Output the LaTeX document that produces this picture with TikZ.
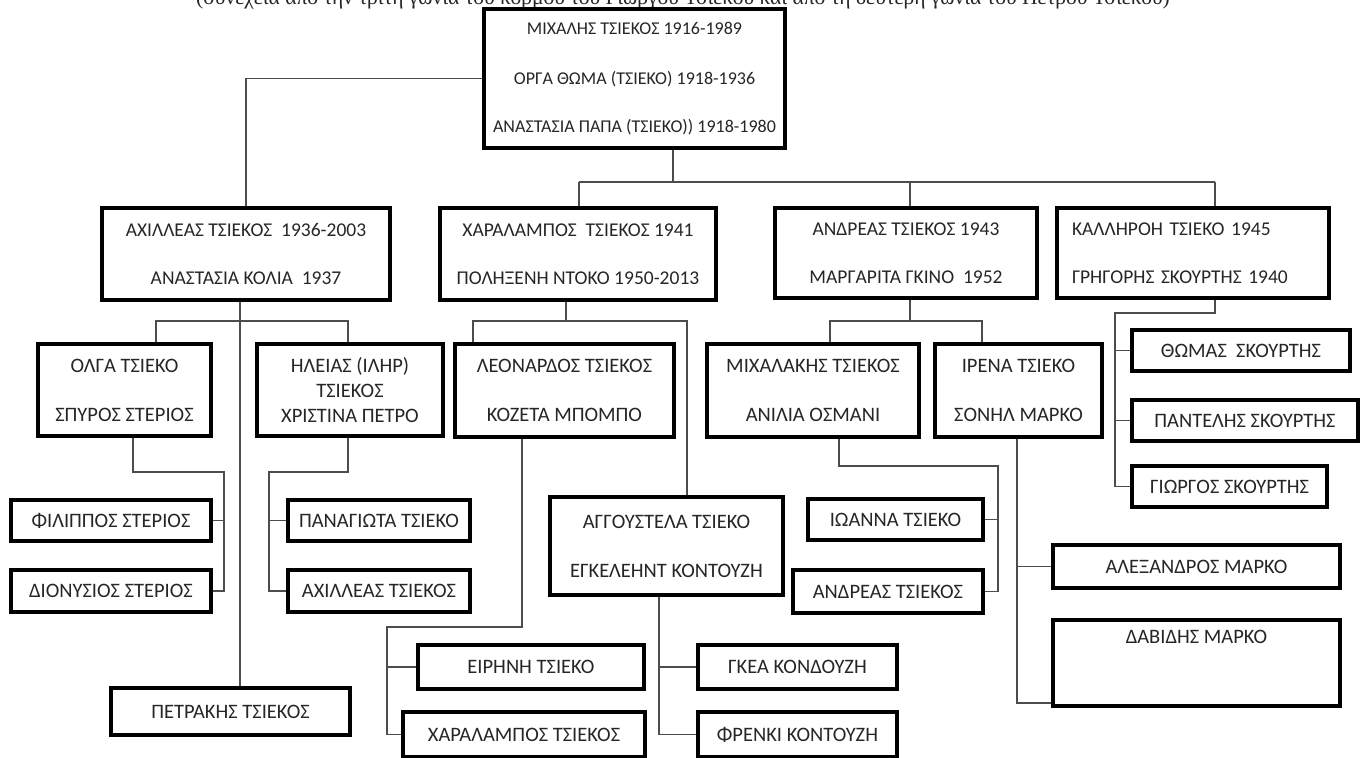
\documentclass[tikz,border=0pt]{standalone}
\usepackage{fontspec}
\setmainfont{Carlito}
\newfontfamily\titlefont{Liberation Serif}
\begin{document}
\begin{tikzpicture}[x=1pt,y=-1pt,
  box/.style={draw=black, line width=3.6pt, fill=white, inner sep=0pt, align=center,
    font=\fontsize{20.5}{24.6}\selectfont, text=black!85},
  rootbox/.style={box, font=\fontsize{18}{21.6}\selectfont},
  bigbox/.style={box, font=\fontsize{19.5}{23.4}\selectfont},
  link/.style={draw=black!70, line width=1.3pt},
  titletext/.style={font=\titlefont\fontsize{21.5}{25}\selectfont, anchor=base, text=black!85}]
\useasboundingbox (0,0) rectangle (1361,758);
\clip (0,0) rectangle (1361,758);
\fill[white] (0,0) rectangle (1361,758);

% a family box from its corner coordinates
\newcommand{\fambox}[7][]{%
  \node[box, #1, minimum width={#5-#3}, minimum height={#6-#4}] (#2)
    at ({(#3+#5)/2},{(#4+#6)/2}) {#7};}

\node[titletext] (title) at (683,4) {(συνέχεια από την τρίτη γωνία του κορμού του Γιώργου Τσιέκου και από τη δεύτερη γωνία του Πέτρου Τσιέκου)};

% ---- junction points of the lines ----
\coordinate (sp) at (673,182);
\coordinate (spL) at (579,182);
\coordinate (spA) at (910,182);
\coordinate (spK) at (1215,182);
\coordinate (a1) at (240,321);
\coordinate (a2) at (156,321);
\coordinate (a3) at (348,321);
\coordinate (o1) at (133,472);
\coordinate (o2) at (224,472);
\coordinate (i1) at (348,472);
\coordinate (i2) at (269,472);
\coordinate (c0) at (566,321);
\coordinate (c1) at (473,321);
\coordinate (c2) at (687,321);
\coordinate (l1) at (522,627);
\coordinate (l2) at (387,627);
\coordinate (g1) at (659,600);
\coordinate (n0) at (910,321);
\coordinate (n1) at (830,321);
\coordinate (n2) at (982,321);
\coordinate (m1) at (839,466);
\coordinate (m2) at (998,466);
\coordinate (r1) at (1017,440);
\coordinate (rf) at (1017,703);
\coordinate (k1) at (1215,313);
\coordinate (k2) at (1115,313);

% ---- boxes ----
\fambox[rootbox]{top}{484}{9}{785}{148}{ΜΙΧΑΛΗΣ ΤΣΙΕΚΟΣ 1916-1989\\[28.4pt]ΟΡΓΑ ΘΩΜΑ (ΤΣΙΕΚΟ) 1918-1936\\[26.4pt]ΑΝΑΣΤΑΣΙΑ ΠΑΠΑ (ΤΣΙΕΚΟ)) 1918-1980}

\fambox[bigbox]{ach}{102}{208}{390}{300}{ΑΧΙΛΛΕΑΣ ΤΣΙΕΚΟΣ~~1936-2003\\[24.6pt]ΑΝΑΣΤΑΣΙΑ ΚΟΛΙΑ~~1937}
\fambox[bigbox]{cha}{440}{208}{716}{300}{ΧΑΡΑΛΑΜΠΟΣ~~ΤΣΙΕΚΟΣ 1941\\[24.6pt]ΠΟΛΗΞΕΝΗ ΝΤΟΚΟ 1950-2013}
\fambox[bigbox]{an}{775}{208}{1037}{298}{ΑΝΔΡΕΑΣ ΤΣΙΕΚΟΣ 1943\\[24.6pt]ΜΑΡΓΑΡΙΤΑ ΓΚΙΝΟ~~1952}
\fambox[bigbox, align=left, text width=242pt]{kal}{1057}{208}{1329}{298}{ΚΑΛΛΗΡΟΗ ΤΣΙΕΚΟ 1945\\[24.6pt]ΓΡΗΓΟΡΗΣ ΣΚΟΥΡΤΗΣ 1940}

\fambox{olg}{38}{344}{211}{436}{ΟΛΓΑ ΤΣΙΕΚΟ\\[24.4pt]ΣΠΥΡΟΣ ΣΤΕΡΙΟΣ}
\fambox{ili}{257}{344}{443}{436}{ΗΛΕΙΑΣ (ΙΛΗΡ)\\ΤΣΙΕΚΟΣ\\ΧΡΙΣΤΙΝΑ ΠΕΤΡΟ}
\fambox{leo}{455}{344}{674}{437}{ΛΕΟΝΑΡΔΟΣ ΤΣΙΕΚΟΣ\\[24.4pt]ΚΟΖΕΤΑ ΜΠΟΜΠΟ}
\fambox{mic}{707}{344}{919}{437}{ΜΙΧΑΛΑΚΗΣ ΤΣΙΕΚΟΣ\\[24.4pt]ΑΝΙΛΙΑ ΟΣΜΑΝΙ}
\fambox{ire}{935}{344}{1102}{437}{ΙΡΕΝΑ ΤΣΙΕΚΟ\\[24.4pt]ΣΟΝΗΛ ΜΑΡΚΟ}

\fambox{tho}{1132}{330}{1350}{371}{ΘΩΜΑΣ~~ΣΚΟΥΡΤΗΣ}
\fambox{pnt}{1132}{400}{1358}{441}{ΠΑΝΤΕΛΗΣ ΣΚΟΥΡΤΗΣ}
\fambox{gio}{1132}{466}{1327}{507}{ΓΙΩΡΓΟΣ ΣΚΟΥΡΤΗΣ}

\fambox{fil}{11}{500}{211}{541}{ΦΙΛΙΠΠΟΣ ΣΤΕΡΙΟΣ}
\fambox{dio}{11}{570}{211}{612}{ΔΙΟΝΥΣΙΟΣ ΣΤΕΡΙΟΣ}
\fambox{pan}{288}{500}{470}{541}{ΠΑΝΑΓΙΩΤΑ ΤΣΙΕΚΟ}
\fambox{acj}{288}{570}{470}{612}{ΑΧΙΛΛΕΑΣ ΤΣΙΕΚΟΣ}
\fambox{pet}{111}{688}{350}{735}{ΠΕΤΡΑΚΗΣ ΤΣΙΕΚΟΣ}

\fambox{agg}{550}{497}{783}{595}{ΑΓΓΟΥΣΤΕΛΑ ΤΣΙΕΚΟ\\[24.4pt]ΕΓΚΕΛΕΗΝΤ ΚΟΝΤΟΥΖΗ}
\fambox{eir}{418}{645}{644}{689}{ΕΙΡΗΝΗ ΤΣΙΕΚΟ}
\fambox{chj}{403}{712}{645}{757}{ΧΑΡΑΛΑΜΠΟΣ ΤΣΙΕΚΟΣ}
\fambox{gke}{698}{645}{897}{689}{ΓΚΕΑ ΚΟΝΔΟΥΖΗ}
\fambox{fre}{698}{712}{897}{757}{ΦΡΕΝΚΙ ΚΟΝΤΟΥΖΗ}

\fambox{ioa}{808}{499}{983}{540}{ΙΩΑΝΝΑ ΤΣΙΕΚΟ}
\fambox{anj}{793}{570}{983}{613}{ΑΝΔΡΕΑΣ ΤΣΙΕΚΟΣ}
\fambox{ale}{1053}{545}{1340}{588}{ΑΛΕΞΑΝΔΡΟΣ ΜΑΡΚΟ}
\fambox{dav}{1053}{620}{1340}{706}{ΔΑΒΙΔΗΣ ΜΑΡΚΟ\\[20pt]\strut}

% ---- lines between the boxes ----
\draw[link] (top.west) -| (ach.north);
\draw[link] (top.south -| sp) -- (sp);
\draw[link] (spL) -- (spK);
\draw[link] (spL) -- (spL |- cha.north);
\draw[link] (spA) -- (spA |- an.north);
\draw[link] (spK) -- (spK |- kal.north);

\draw[link] (a1 |- ach.south) -- (a1 |- pet.north);
\draw[link] (a2 |- olg.north) -- (a2) -- (a3) -- (a3 |- ili.north);

\draw[link] (o1 |- olg.south) -- (o1) -- (o2) -- (o2 |- dio.east) -- (dio.east);
\draw[link] (o2 |- fil.east) -- (fil.east);
\draw[link] (i1 |- ili.south) -- (i1) -- (i2) -- (i2 |- acj.west) -- (acj.west);
\draw[link] (i2 |- pan.west) -- (pan.west);

\draw[link] (c0 |- cha.south) -- (c0);
\draw[link] (c1 |- leo.north) -- (c1) -- (c2) -- (c2 |- agg.north);
\draw[link] (l1 |- leo.south) -- (l1) -- (l2) -- (l2 |- chj.west) -- (chj.west);
\draw[link] (l2 |- eir.west) -- (eir.west);
\draw[link] (g1 |- agg.south) -- (g1 |- fre.west) -- (fre.west);
\draw[link] (g1 |- gke.west) -- (gke.west);

\draw[link] (n0 |- an.south) -- (n0);
\draw[link] (n1 |- mic.north) -- (n1) -- (n2) -- (n2 |- ire.north);
\draw[link] (m1 |- mic.south) -- (m1) -- (m2) -- (m2 |- anj.east) -- (anj.east);
\draw[link] (m2 |- ioa.east) -- (ioa.east);
\draw[link] (r1 |- ire.south) -- (rf) -- (rf -| dav.west);
\draw[link] (r1 |- ale.west) -- (ale.west);

\draw[link] (k1 |- kal.south) -- (k1) -- (k2) -- (k2 |- gio.west) -- (gio.west);
\draw[link] (k2 |- tho.west) -- (tho.west);
\draw[link] (k2 |- pnt.west) -- (pnt.west);
\end{tikzpicture}
\end{document}
